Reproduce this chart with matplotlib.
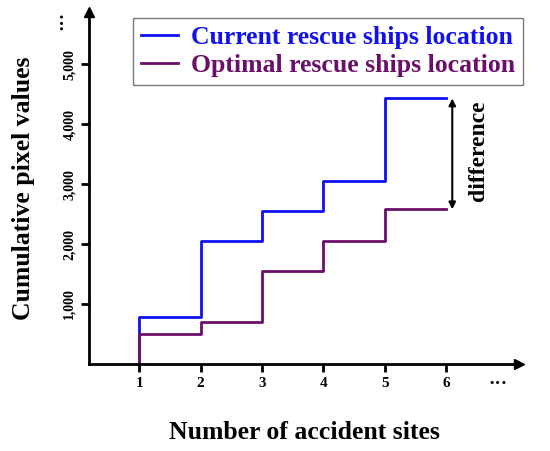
import matplotlib.pyplot as plt

# data
sites = [1, 2, 3, 4, 5, 6]
current = [780, 2050, 2550, 3050, 4430, 4430]
optimal = [500, 700, 1550, 2050, 2580, 2580]
yticks = [1000, 2000, 3000, 4000, 5000]
ytick_labels = ["1,000", "2,000", "3,000", "4,000", "5,000"]

blue = "#1010f0"
purple = "#6a0f6a"
serif = ["Liberation Serif", "DejaVu Serif"]

fig = plt.figure(figsize=(5.5, 4.51), dpi=100)
ax = fig.add_axes([0.162, 0.193, 0.782, 0.780])

ax.step([sites[0]] + sites, [0] + current, where="post", color=blue, lw=2.0,
        label="Current rescue ships location")
ax.step([sites[0]] + sites, [0] + optimal, where="post", color=purple, lw=2.0,
        label="Optimal rescue ships location")

ax.set_xlim(0.185, 7.19)
ax.set_ylim(0, 5870)

# axes with arrow heads
for s in ["top", "right"]:
    ax.spines[s].set_visible(False)
for s in ["left", "bottom"]:
    ax.spines[s].set_linewidth(2)
ax.plot(1, 0, ">k", ms=7, transform=ax.transAxes, clip_on=False)
ax.plot(0, 1, "^k", ms=7, transform=ax.transAxes, clip_on=False)

ax.set_xticks(sites)
ax.set_xticklabels([str(s) for s in sites], fontfamily=serif, fontweight="bold", fontsize=11)
ax.set_yticks(yticks)
ax.set_yticklabels(ytick_labels, fontfamily=serif, fontweight="bold", fontsize=10,
                   rotation=90, va="center")
ax.tick_params(length=6, width=2, direction="out")

# "more" dots on both axes
ax.text(0.95, -0.058, "\u00b7\u00b7\u00b7", transform=ax.transAxes, fontsize=14,
        fontweight="bold", fontfamily=serif, ha="center", va="center")
ax.text(-0.06, 0.977, "\u00b7\u00b7\u00b7", transform=ax.transAxes, fontsize=14,
        fontweight="bold", fontfamily=serif, ha="center", va="center", rotation=90)

ax.set_xlabel("Number of accident sites", fontfamily=serif, fontweight="bold",
              fontsize=18.5, labelpad=22)
ax.set_ylabel("Cumulative pixel values", fontfamily=serif, fontweight="bold",
              fontsize=18.5, labelpad=20)

# difference arrow
ax.annotate("", xy=(6.1, current[-1]), xytext=(6.1, optimal[-1]),
            arrowprops=dict(arrowstyle="<|-|>", color="black", lw=1.5,
                            mutation_scale=10, shrinkA=0, shrinkB=0))
ax.text(6.53, (current[-1] + optimal[-1]) / 2 + 50, "difference", rotation=90,
        ha="center", va="center", fontfamily=serif, fontweight="bold", fontsize=17)

leg = ax.legend(loc="upper left", bbox_to_anchor=(0.102, 0.983), frameon=True,
                fancybox=False, edgecolor="#555555", handlelength=1.45,
                borderpad=0.3, labelspacing=0.2, handletextpad=0.5,
                borderaxespad=0,
                prop=dict(family=serif, weight="bold", size=18.5))
leg.get_frame().set_linewidth(1)
for txt, c in zip(leg.get_texts(), [blue, purple]):
    txt.set_color(c)

fig.savefig("out.png", dpi=100)
